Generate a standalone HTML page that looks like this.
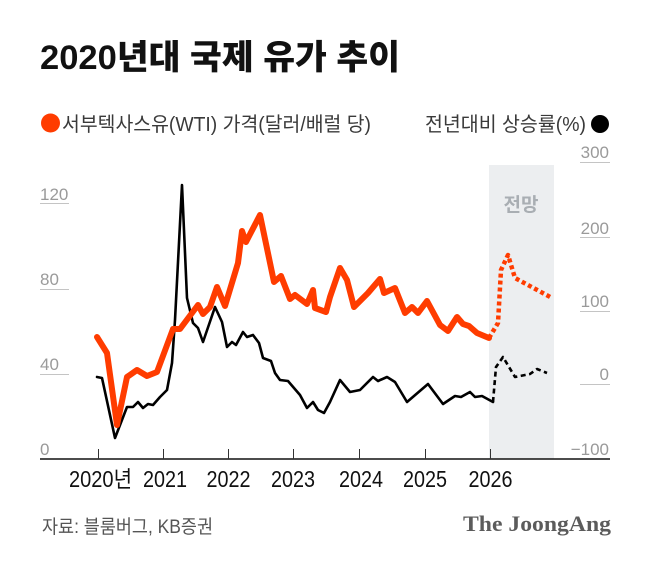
<!DOCTYPE html>
<html>
<head>
<meta charset="utf-8">
<style>
  html, body { margin:0; padding:0; background:#fff; }
  body { width:650px; height:565px; overflow:hidden; }
  svg { display:block; }
  .ko { font-family: "Liberation Sans", "Noto Sans CJK KR", sans-serif; }
  .ax { font-family: "Liberation Sans", sans-serif; font-size:17px; fill:#9a9a9a; }
  .yr { font-family: "Liberation Sans", "Noto Sans CJK KR", sans-serif; font-size:23px; fill:#111; }
</style>
</head>
<body>
<svg width="650" height="565" viewBox="0 0 650 565" xmlns="http://www.w3.org/2000/svg">
  <rect x="0" y="0" width="650" height="565" fill="#fff"/>

  <!-- Title -->
  <text class="ko" x="40" y="69" font-size="34" font-weight="900" fill="#111" textLength="360" lengthAdjust="spacingAndGlyphs">2020년대 국제 유가 추이</text>

  <!-- Legend -->
  <circle cx="50.5" cy="123" r="9.5" fill="#ff3c00"/>
  <text class="ko" x="62" y="131" font-size="20" fill="#3a3a3a" textLength="309" lengthAdjust="spacingAndGlyphs">서부텍사스유(WTI) 가격(달러/배럴 당)</text>
  <text class="ko" x="425" y="131" font-size="20" fill="#3a3a3a" textLength="161" lengthAdjust="spacingAndGlyphs">전년대비 상승률(%)</text>
  <circle cx="600" cy="124" r="9" fill="#000"/>

  <!-- Forecast shaded region -->
  <rect x="489" y="165" width="65" height="294" fill="#eceef0"/>
  <text class="ko" x="521" y="211" font-size="19" font-weight="700" fill="#a9aeb3" text-anchor="middle">전망</text>

  <!-- Gridlines -->
  <g stroke="#c4c4c4" stroke-width="1">
    <line x1="40" y1="203.5" x2="69" y2="203.5"/>
    <line x1="40" y1="289.5" x2="69" y2="289.5"/>
    <line x1="40" y1="374.5" x2="69" y2="374.5"/>
    <line x1="580" y1="162.5" x2="610" y2="162.5"/>
    <line x1="580" y1="237.5" x2="610" y2="237.5"/>
    <line x1="580" y1="311.5" x2="610" y2="311.5"/>
    <line x1="580" y1="384.5" x2="610" y2="384.5"/>
  </g>
  <text class="ax" x="40" y="200">120</text>
  <text class="ax" x="40" y="285">80</text>
  <text class="ax" x="40" y="370">40</text>
  <text class="ax" x="40" y="455">0</text>

  <text class="ax" x="609" y="158" text-anchor="end">300</text>
  <text class="ax" x="609" y="234" text-anchor="end">200</text>
  <text class="ax" x="609" y="307" text-anchor="end">100</text>
  <text class="ax" x="609" y="380" text-anchor="end">0</text>
  <text class="ax" x="609" y="455" text-anchor="end">−100</text>

  <!-- Black series (YoY %) -->
  <polyline fill="none" stroke="#000" stroke-width="2.6" stroke-linejoin="round" stroke-linecap="round"
    points="97,377 102,378 115,438 127,407 133,407 138,402 143,408 148,404 153,405 160,397 167,390 172,363 175,320 182,185 187,298 193,323 198,328 203,342 215,307 222,322 227,347 232,342 236,345 243,332 247,337 253,335 259,343 263,358 271,361 275,373 280,380 288,381 300,395 307,408 313,402 318,410 324,413 330,402 340,380 350,392 360,390 373,377 378,381 387,377 395,382 407,402 428,384 443,404 455,396 461,397 470,392 475,397 482,396 493,402"/>
  <polyline fill="none" stroke="#000" stroke-width="2.6" stroke-dasharray="5 3.5" stroke-linejoin="round"
    points="493,402 496,367 503,357 515,377 530,374 537,369 547,373"/>

  <!-- Orange series (WTI price) -->
  <polyline fill="none" stroke="#ff3c00" stroke-width="6" stroke-linejoin="round" stroke-linecap="round"
    points="97,337 107,353 117,425 127,377 137,370 147,376 157,372 173,329 180,329 198,305 203,314 210,307 217,287 225,306 238,263 242,231 246,242 260,215 274,282 281,276 290,299 295,295 307,304 313,290 315,308 326,312 330,297 340,268 347,280 354,307 368,293 380,279 384,293 395,288 405,313 412,307 418,313 427,301 440,325 448,331 457,317 463,324 469,326 477,333 489,338"/>
  <polyline fill="none" stroke="#ff3c00" stroke-width="4.5" stroke-dasharray="4 3" stroke-linejoin="round"
    points="489,338 498,323 501,270 508,255 515,278 552,298"/>

  <!-- Axis -->
  <line x1="40" y1="459" x2="610" y2="459" stroke="#111" stroke-width="1.6"/>
  <g stroke="#333" stroke-width="1">
    <line x1="98.5" y1="449" x2="98.5" y2="459"/>
    <line x1="163.5" y1="449" x2="163.5" y2="459"/>
    <line x1="228.5" y1="449" x2="228.5" y2="459"/>
    <line x1="293.5" y1="449" x2="293.5" y2="459"/>
    <line x1="359.5" y1="449" x2="359.5" y2="459"/>
    <line x1="425.5" y1="449" x2="425.5" y2="459"/>
    <line x1="490.5" y1="449" x2="490.5" y2="459"/>
  </g>
  <text class="yr" x="100.5" y="487" text-anchor="middle" textLength="63" lengthAdjust="spacingAndGlyphs">2020년</text>
  <text class="yr" x="165" y="487" text-anchor="middle" textLength="44" lengthAdjust="spacingAndGlyphs">2021</text>
  <text class="yr" x="228.5" y="487" text-anchor="middle" textLength="44" lengthAdjust="spacingAndGlyphs">2022</text>
  <text class="yr" x="293" y="487" text-anchor="middle" textLength="44" lengthAdjust="spacingAndGlyphs">2023</text>
  <text class="yr" x="361" y="487" text-anchor="middle" textLength="44" lengthAdjust="spacingAndGlyphs">2024</text>
  <text class="yr" x="425" y="487" text-anchor="middle" textLength="44" lengthAdjust="spacingAndGlyphs">2025</text>
  <text class="yr" x="490.5" y="487" text-anchor="middle" textLength="44" lengthAdjust="spacingAndGlyphs">2026</text>

  <!-- Footer -->
  <text class="ko" x="42" y="533" font-size="19" fill="#555" textLength="171" lengthAdjust="spacingAndGlyphs">자료: 블룸버그, KB증권</text>
  <text x="463" y="531" font-family="'Liberation Serif', serif" font-weight="700" font-size="22.5" fill="#5b5b5b" textLength="148" lengthAdjust="spacingAndGlyphs">The JoongAng</text>
</svg>
</body>
</html>
